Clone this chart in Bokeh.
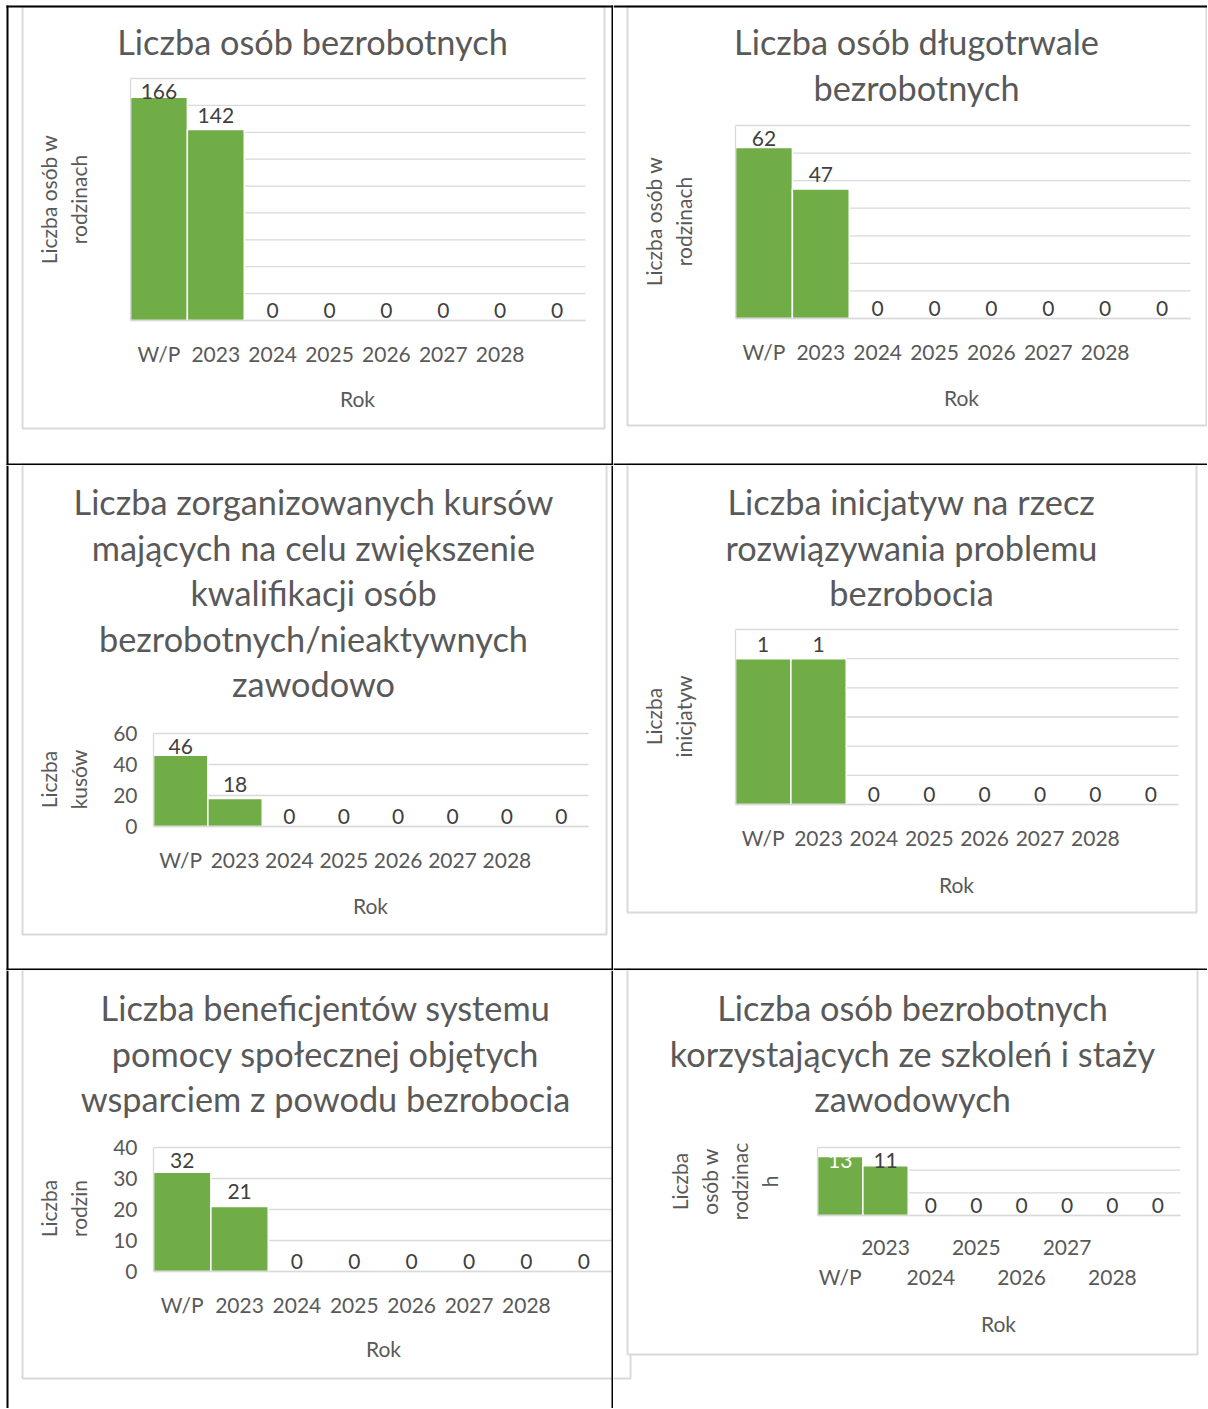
import math
from bokeh.plotting import figure
from bokeh.models import (ColumnDataSource, Range1d, LabelSet, Label, BoxAnnotation,
                          FixedTicker, LinearAxis)
from bokeh.layouts import column, row
from bokeh.embed import file_html
from bokeh.resources import INLINE
from bokeh.core.properties import value

# ---------------- data ----------------
years = ["W/P", "2023", "2024", "2025", "2026", "2027", "2028", " "]
bezrobotni = [166, 142, 0, 0, 0, 0, 0, 0]
dlugotrwale = [62, 47, 0, 0, 0, 0, 0, 0]
kursy = [46, 18, 0, 0, 0, 0, 0, 0]
inicjatywy = [1, 1, 0, 0, 0, 0, 0, 0]
beneficjenci = [32, 21, 0, 0, 0, 0, 0, 0]
szkolenia = [13, 11, 0, 0, 0, 0, 0, 0]

title_1 = ["Liczba osób bezrobotnych"]
title_2 = ["Liczba osób długotrwale", "bezrobotnych"]
title_3 = ["Liczba zorganizowanych kursów", "mających na celu zwiększenie",
           "kwalifikacji osób", "bezrobotnych/nieaktywnych", "zawodowo"]
title_4 = ["Liczba inicjatyw na rzecz", "rozwiązywania problemu", "bezrobocia"]
title_5 = ["Liczba beneficjentów systemu", "pomocy społecznej objętych",
           "wsparciem z powodu bezrobocia"]
title_6 = ["Liczba osób bezrobotnych", "korzystających ze szkoleń i staży", "zawodowych"]

ytitle_1 = ["Liczba osób w", "rodzinach"]
ytitle_2 = ["Liczba osób w", "rodzinach"]
ytitle_3 = ["Liczba", "kusów"]
ytitle_4 = ["Liczba", "inicjatyw"]
ytitle_5 = ["Liczba", "rodzin"]
ytitle_6 = ["Liczba", "osób w", "rodzinac", "h"]
x_title = "Rok"

y_max = [180, 70, 60, 1.2, 40, 15]
y_step = [20, 10, 20, 0.2, 10, 5]

# ---------------- style / layout ----------------
FONT = "Lato"
TXT = "#595959"
LBL = "#404040"
GRID = "#D9D9D9"
BAR = "#70AD47"

COL_X = [0, 613]
COL_W = [613, 594]
ROW_Y = [0, 465, 970]
ROW_H = [465, 505, 438]

# page-pixel geometry of the table and the six chart areas
BLACK = [(6, 1208, 5, 7), (6, 8, 5, 1409), (611, 613, 5, 1409),
         (6, 1208, 463, 465), (6, 1208, 968, 970)]
BOXES = [(22, 604, 6, 428), (627, 1206, 6, 425), (22, 606, 464, 934),
         (627, 1196, 464, 912), (22, 630, 969, 1378), (627, 1197, 969, 1354)]

LAYOUT = [
    dict(cell=(0, 0), frame=(130, 585, 78, 320), title=(312, 41),
         yt_x=[48, 78], yt_y=199, rok=(357, 398), yticks=False),
    dict(cell=(1, 0), frame=(735, 1190, 125, 318), title=(916, 41),
         yt_x=[653, 683], yt_y=221, rok=(961, 397), yticks=False),
    dict(cell=(0, 1), frame=(153, 588, 733, 826), title=(313, 501),
         yt_x=[48, 78], yt_y=779, rok=(370, 905), yticks=True),
    dict(cell=(1, 1), frame=(735, 1178, 629, 804), title=(911, 501),
         yt_x=[653, 683], yt_y=716, rok=(956, 884), yticks=False),
    dict(cell=(0, 2), frame=(153, 612, 1147, 1271), title=(325, 1007),
         yt_x=[48, 78], yt_y=1208, rok=(383, 1348), yticks=True),
    dict(cell=(1, 2), frame=(817, 1180, 1147, 1215), title=(912, 1007),
         yt_x=[679, 709, 739, 769], yt_y=1181, rok=(998, 1323), yticks=False, stagger=True),
]
TITLE_STEP = 45.5
TICK_STANDOFF = 20


def make_chart(vals, tlines, ylines, ymax, ystep, cfg):
    col, rw = cfg["cell"]
    X0, Y0, W, H = COL_X[col], ROW_Y[rw], COL_W[col], ROW_H[rw]
    fx0, fx1, fy0, fy1 = cfg["frame"]
    ncat = len(years)
    cw = (fx1 - fx0) / ncat
    py = (fy1 - fy0) / ymax
    p = figure(width=W, height=H,
               x_range=Range1d(-(fx0 - X0) / cw, ncat + (X0 + W - fx1) / cw),
               y_range=Range1d(-(Y0 + H - fy1) / py, ymax + (fy0 - Y0) / py),
               output_backend="svg", toolbar_location=None, tools="", min_border=0)
    p.title.text = ""
    p.outline_line_color = None
    p.background_fill_color = "white"
    p.border_fill_color = "white"
    p.xgrid.visible = False
    p.ygrid.visible = False

    def sx(X):
        return X - X0

    def sy(Y):
        return Y0 + H - Y

    def rect(x0, x1, y0, y1, **kw):
        return BoxAnnotation(left=sx(x0), right=sx(x1), top=sy(y0), bottom=sy(y1),
                             left_units="screen", right_units="screen",
                             top_units="screen", bottom_units="screen", **kw)

    def overlaps(r):
        return r[0] < X0 + W and r[1] > X0 and r[2] < Y0 + H and r[3] > Y0

    # chart areas (light grey frames with white fill), behind everything
    for b in BOXES:
        if overlaps(b):
            p.add_layout(rect(*b, fill_color="white", fill_alpha=1.0, line_color=GRID,
                              line_alpha=1.0, line_width=2, level="underlay"))

    # gridlines
    n = int(round(ymax / ystep))
    ticks = [round(i * ystep, 6) for i in range(n + 1)]
    p.segment(x0=[0] * len(ticks), x1=[ncat] * len(ticks), y0=ticks, y1=ticks,
              line_color=GRID, line_width=1.3)

    # bars + data labels (outside end, kept inside the plot area)
    centers = [i + 0.5 for i in range(ncat)]
    frame_h = fy1 - fy0
    offs, cols = [], []
    for v in vals:
        lim = frame_h - 20
        gap = 7 if v > 0 else 3
        off = gap if v * py + gap <= lim else lim - v * py
        offs.append(off)
        cols.append("white" if off < -5 else LBL)
    src = ColumnDataSource(dict(x=centers, top=vals, lab=[str(v) for v in vals],
                                off=offs, col=cols))
    p.vbar(x="x", top="top", width=1.0, bottom=0, source=src, fill_color=BAR,
           line_color="white", line_width=1.5)
    p.add_layout(LabelSet(x="x", y="top", text="lab", y_offset="off", text_color="col",
                          source=src, text_align="center", text_baseline="alphabetic",
                          text_font=value(FONT), text_font_size=value("21px")))

    # value axis (at the left edge of the plot area)
    ya = p.yaxis[0]
    ya.fixed_location = 0
    ya.bounds = (0, ymax)
    ya.ticker = FixedTicker(ticks=ticks)
    ya.axis_line_color = GRID
    ya.axis_line_width = 1.3
    ya.major_tick_line_color = None
    ya.minor_tick_line_color = None
    ya.major_tick_out = 0
    ya.major_tick_in = 0
    ya.major_label_standoff = 16
    ya.major_label_text_font = FONT
    ya.major_label_text_font_size = "21px"
    ya.major_label_text_color = TXT if cfg["yticks"] else None

    # category axis (at value 0)
    def cat_axis(ax, labels, standoff):
        ax.fixed_location = 0
        ax.bounds = (0, ncat)
        ax.ticker = FixedTicker(ticks=centers)
        ax.major_label_overrides = {c: lab for c, lab in zip(centers, labels)}
        ax.axis_line_color = GRID
        ax.axis_line_width = 1.5
        ax.major_tick_line_color = None
        ax.minor_tick_line_color = None
        ax.major_tick_out = 0
        ax.major_tick_in = 0
        ax.major_label_standoff = standoff
        ax.major_label_text_font = FONT
        ax.major_label_text_font_size = "21px"
        ax.major_label_text_color = TXT

    xa = p.xaxis[0]
    if cfg.get("stagger"):
        upper = [y if i % 2 == 1 else "" for i, y in enumerate(years)]
        lower = [y if i % 2 == 0 else "" for i, y in enumerate(years)]
        cat_axis(xa, upper, TICK_STANDOFF - 2)
        xb = LinearAxis()
        p.add_layout(xb, "below")
        cat_axis(xb, lower, TICK_STANDOFF + 28)
        xb.axis_line_color = None
    else:
        cat_axis(xa, years, TICK_STANDOFF)

    # chart title
    tx, ty = cfg["title"]
    for i, line in enumerate(tlines):
        p.add_layout(Label(x=sx(tx), y=sy(ty + i * TITLE_STEP), x_units="screen",
                           y_units="screen", text=line, text_align="center",
                           text_baseline="middle", text_font=FONT, text_font_size="34.3px",
                           text_color=TXT))
    # value-axis title (rotated)
    for xx, line in zip(cfg["yt_x"], ylines):
        p.add_layout(Label(x=sx(xx), y=sy(cfg["yt_y"]), x_units="screen", y_units="screen",
                           text=line, angle=math.pi / 2, text_align="center",
                           text_baseline="middle", text_font=FONT, text_font_size="21px",
                           text_color=TXT))
    # category-axis title
    rx, ry = cfg["rok"]
    p.add_layout(Label(x=sx(rx), y=sy(ry), x_units="screen", y_units="screen", text=x_title,
                       text_align="center", text_baseline="middle", text_font=FONT,
                       text_font_size="21px", text_color=TXT))

    # table borders (black)
    for a, b, c, d in BLACK:
        a2, b2, c2, d2 = max(a, X0), min(b, X0 + W), max(c, Y0), min(d, Y0 + H)
        if a2 < b2 and c2 < d2:
            p.add_layout(rect(a2, b2, c2, d2, fill_color="black", fill_alpha=1.0,
                              line_color=None))
    return p


series = [bezrobotni, dlugotrwale, kursy, inicjatywy, beneficjenci, szkolenia]
titles = [title_1, title_2, title_3, title_4, title_5, title_6]
ytitles = [ytitle_1, ytitle_2, ytitle_3, ytitle_4, ytitle_5, ytitle_6]

figs = [make_chart(series[i], titles[i], ytitles[i], y_max[i], y_step[i], LAYOUT[i])
        for i in range(6)]

layout = column(row(figs[0], figs[1]), row(figs[2], figs[3]), row(figs[4], figs[5]))
open("out.html", "w").write(file_html(layout, INLINE))
